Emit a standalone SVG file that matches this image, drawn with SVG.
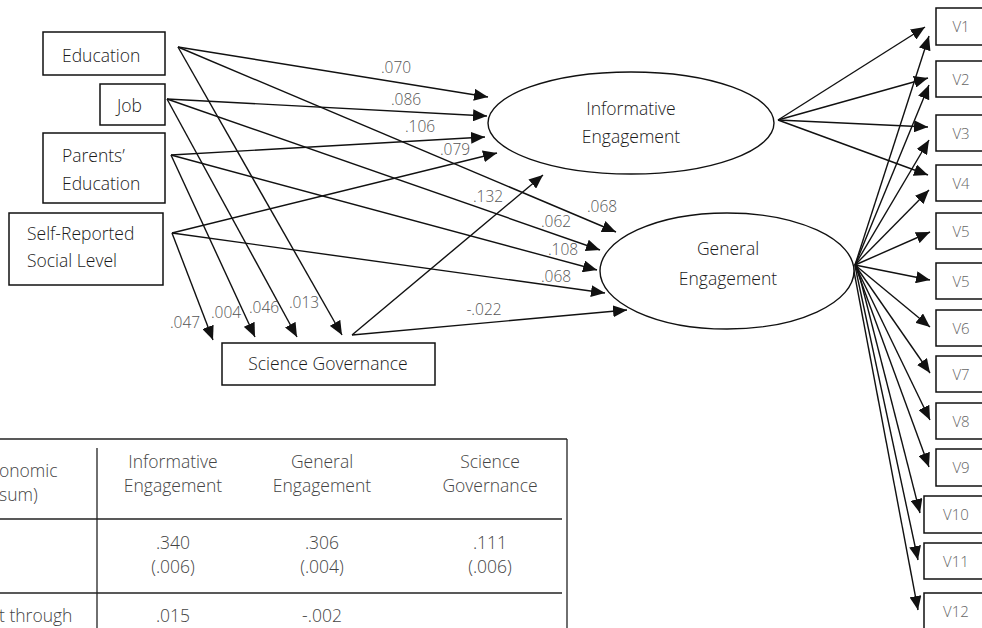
<svg xmlns="http://www.w3.org/2000/svg" width="982" height="628" viewBox="0 0 982 628">
  <style>
    .box { fill: #fff; stroke: #111; stroke-width: 1.5; }
    .oval { fill: #fff; stroke: #111; stroke-width: 1.4; }
    text { font-family: "Open Sans", "Liberation Sans", sans-serif; font-weight: 300; }
    .lbl { font-size: 17.5px; fill: #1a1a1a; }
    .mid { text-anchor: middle; }
    .coef { font-size: 15.5px; fill: #555; text-anchor: middle; }
    .vl { font-size: 15px; fill: #666; text-anchor: middle; }
    .tb { font-size: 17.5px; fill: #444; }
    .edge { stroke: #111; stroke-width: 1.4; fill: none; marker-end: url(#arrow); }
    .rule { stroke: #222; stroke-width: 1.3; fill: none; }
  </style>
  <defs>
    <marker id="arrow" markerUnits="userSpaceOnUse" markerWidth="15" markerHeight="12" refX="14" refY="6" orient="auto">
      <path d="M0,0 L14,6 L0,12 z" fill="#111"/>
    </marker>
  </defs>
  <rect width="982" height="628" fill="#fff"/>

  <!-- connectors -->
  <g id="connectors">
    <!-- into Informative Engagement -->
    <line class="edge" x1="178" y1="47" x2="488" y2="97"/>
    <line class="edge" x1="167" y1="99" x2="487" y2="116"/>
    <line class="edge" x1="171" y1="155" x2="485" y2="137"/>
    <line class="edge" x1="172" y1="233" x2="497" y2="153"/>
    <line class="edge" x1="352" y1="335" x2="543" y2="175"/>
    <!-- into General Engagement -->
    <line class="edge" x1="178" y1="47" x2="616" y2="232"/>
    <line class="edge" x1="167" y1="99" x2="600" y2="250"/>
    <line class="edge" x1="171" y1="155" x2="597" y2="270"/>
    <line class="edge" x1="172" y1="233" x2="605" y2="293"/>
    <line class="edge" x1="352" y1="335" x2="627" y2="310"/>
    <!-- into Science Governance -->
    <line class="edge" x1="172" y1="233" x2="213" y2="340"/>
    <line class="edge" x1="171" y1="155" x2="255" y2="337"/>
    <line class="edge" x1="167" y1="99" x2="297" y2="337"/>
    <line class="edge" x1="178" y1="47" x2="342" y2="335"/>
    <!-- Informative Engagement indicators -->
    <line class="edge" x1="778" y1="120" x2="925" y2="27"/>
    <line class="edge" x1="778" y1="120" x2="928" y2="78"/>
    <line class="edge" x1="778" y1="120" x2="928" y2="127"/>
    <line class="edge" x1="778" y1="120" x2="928" y2="175"/>
    <!-- General Engagement indicators -->
    <line class="edge" x1="855" y1="265" x2="929" y2="36"/>
    <line class="edge" x1="855" y1="265" x2="929" y2="85"/>
    <line class="edge" x1="855" y1="265" x2="929" y2="140"/>
    <line class="edge" x1="855" y1="265" x2="929" y2="190"/>
    <line class="edge" x1="855" y1="265" x2="930" y2="232"/>
    <line class="edge" x1="855" y1="265" x2="930" y2="280"/>
    <line class="edge" x1="855" y1="265" x2="930" y2="327"/>
    <line class="edge" x1="855" y1="265" x2="930" y2="373"/>
    <line class="edge" x1="855" y1="265" x2="930" y2="420"/>
    <line class="edge" x1="855" y1="265" x2="929" y2="467"/>
    <line class="edge" x1="857" y1="266" x2="920" y2="513"/>
    <line class="edge" x1="855" y1="266" x2="918" y2="560"/>
    <line class="edge" x1="853" y1="266" x2="918" y2="610"/>

    <!-- path coefficients -->
    <text class="coef" x="396" y="73">.070</text>
    <text class="coef" x="406" y="105">.086</text>
    <text class="coef" x="420" y="132">.106</text>
    <text class="coef" x="455" y="155">.079</text>
    <text class="coef" x="488" y="202">.132</text>
    <text class="coef" x="602" y="212">.068</text>
    <text class="coef" x="556" y="227">.062</text>
    <text class="coef" x="563" y="255">.108</text>
    <text class="coef" x="556" y="282">.068</text>
    <text class="coef" x="484" y="315">-.022</text>
    <text class="coef" x="185" y="328">.047</text>
    <text class="coef" x="226" y="318">.004</text>
    <text class="coef" x="264" y="313">.046</text>
    <text class="coef" x="304" y="308">.013</text>
  </g>

  <!-- predictors -->
  <g id="education">
    <rect class="box" x="43" y="32" width="122" height="43"/>
    <text class="lbl" x="62" y="62">Education</text>
  </g>
  <g id="job">
    <rect class="box" x="100" y="84" width="65" height="41"/>
    <text class="lbl" x="117" y="112">Job</text>
  </g>
  <g id="parents-education">
    <rect class="box" x="43" y="133" width="122" height="70"/>
    <text class="lbl" x="62" y="162">Parents’</text>
    <text class="lbl" x="62" y="190">Education</text>
  </g>
  <g id="social-level">
    <rect class="box" x="9" y="213" width="154" height="72"/>
    <text class="lbl" x="27" y="240">Self-Reported</text>
    <text class="lbl" x="27" y="267">Social Level</text>
  </g>
  <g id="science-governance">
    <rect class="box" x="222" y="343" width="213" height="42"/>
    <text class="lbl mid" x="328" y="370">Science Governance</text>
  </g>

  <!-- latent factors -->
  <g id="informative-engagement">
    <ellipse class="oval" cx="631" cy="123" rx="143" ry="51"/>
    <text class="lbl mid" x="631" y="115">Informative</text>
    <text class="lbl mid" x="631" y="143">Engagement</text>
  </g>
  <g id="general-engagement">
    <ellipse class="oval" cx="727" cy="271" rx="127" ry="58"/>
    <text class="lbl mid" x="728" y="255">General</text>
    <text class="lbl mid" x="728" y="285">Engagement</text>
  </g>

  <!-- indicators -->
  <g id="v1"><rect class="box" x="936" y="8" width="60" height="37"/><text class="vl" x="961" y="32">V1</text></g>
  <g id="v2"><rect class="box" x="936" y="61" width="60" height="36"/><text class="vl" x="961" y="85">V2</text></g>
  <g id="v3"><rect class="box" x="936" y="115" width="60" height="36"/><text class="vl" x="961" y="139">V3</text></g>
  <g id="v4"><rect class="box" x="936" y="165" width="60" height="36"/><text class="vl" x="961" y="189">V4</text></g>
  <g id="v5a"><rect class="box" x="936" y="213" width="60" height="36"/><text class="vl" x="961" y="237">V5</text></g>
  <g id="v5b"><rect class="box" x="936" y="263" width="60" height="36"/><text class="vl" x="961" y="287">V5</text></g>
  <g id="v6"><rect class="box" x="936" y="310" width="60" height="36"/><text class="vl" x="961" y="334">V6</text></g>
  <g id="v7"><rect class="box" x="936" y="356" width="60" height="36"/><text class="vl" x="961" y="380">V7</text></g>
  <g id="v8"><rect class="box" x="936" y="403" width="60" height="36"/><text class="vl" x="961" y="427">V8</text></g>
  <g id="v9"><rect class="box" x="936" y="449" width="60" height="37"/><text class="vl" x="961" y="473">V9</text></g>
  <g id="v10"><rect class="box" x="924" y="496" width="72" height="37"/><text class="vl" x="956" y="520">V10</text></g>
  <g id="v11"><rect class="box" x="924" y="543" width="72" height="36"/><text class="vl" x="956" y="567">V11</text></g>
  <g id="v12"><rect class="box" x="924" y="593" width="72" height="40"/><text class="vl" x="956" y="617">V12</text></g>

  <!-- summary table -->
  <g id="table">
    <line class="rule" x1="0" y1="439" x2="567" y2="439"/>
    <line class="rule" x1="567" y1="439" x2="567" y2="628"/>
    <line class="rule" x1="97" y1="448" x2="97" y2="628"/>
    <line class="rule" x1="0" y1="519" x2="562" y2="519"/>
    <line class="rule" x1="0" y1="593" x2="562" y2="593"/>
    <text class="tb" x="-1" y="477">onomic</text>
    <text class="tb" x="-1" y="501">sum)</text>
    <text class="tb" x="-1" y="622">t through</text>
    <text class="tb mid" x="173" y="468">Informative</text>
    <text class="tb mid" x="173" y="492">Engagement</text>
    <text class="tb mid" x="322" y="468">General</text>
    <text class="tb mid" x="322" y="492">Engagement</text>
    <text class="tb mid" x="490" y="468">Science</text>
    <text class="tb mid" x="490" y="492">Governance</text>
    <text class="tb mid" x="173" y="549">.340</text>
    <text class="tb mid" x="173" y="573">(.006)</text>
    <text class="tb mid" x="322" y="549">.306</text>
    <text class="tb mid" x="322" y="573">(.004)</text>
    <text class="tb mid" x="490" y="549">.111</text>
    <text class="tb mid" x="490" y="573">(.006)</text>
    <text class="tb mid" x="173" y="622">.015</text>
    <text class="tb mid" x="322" y="622">-.002</text>
  </g>
</svg>
